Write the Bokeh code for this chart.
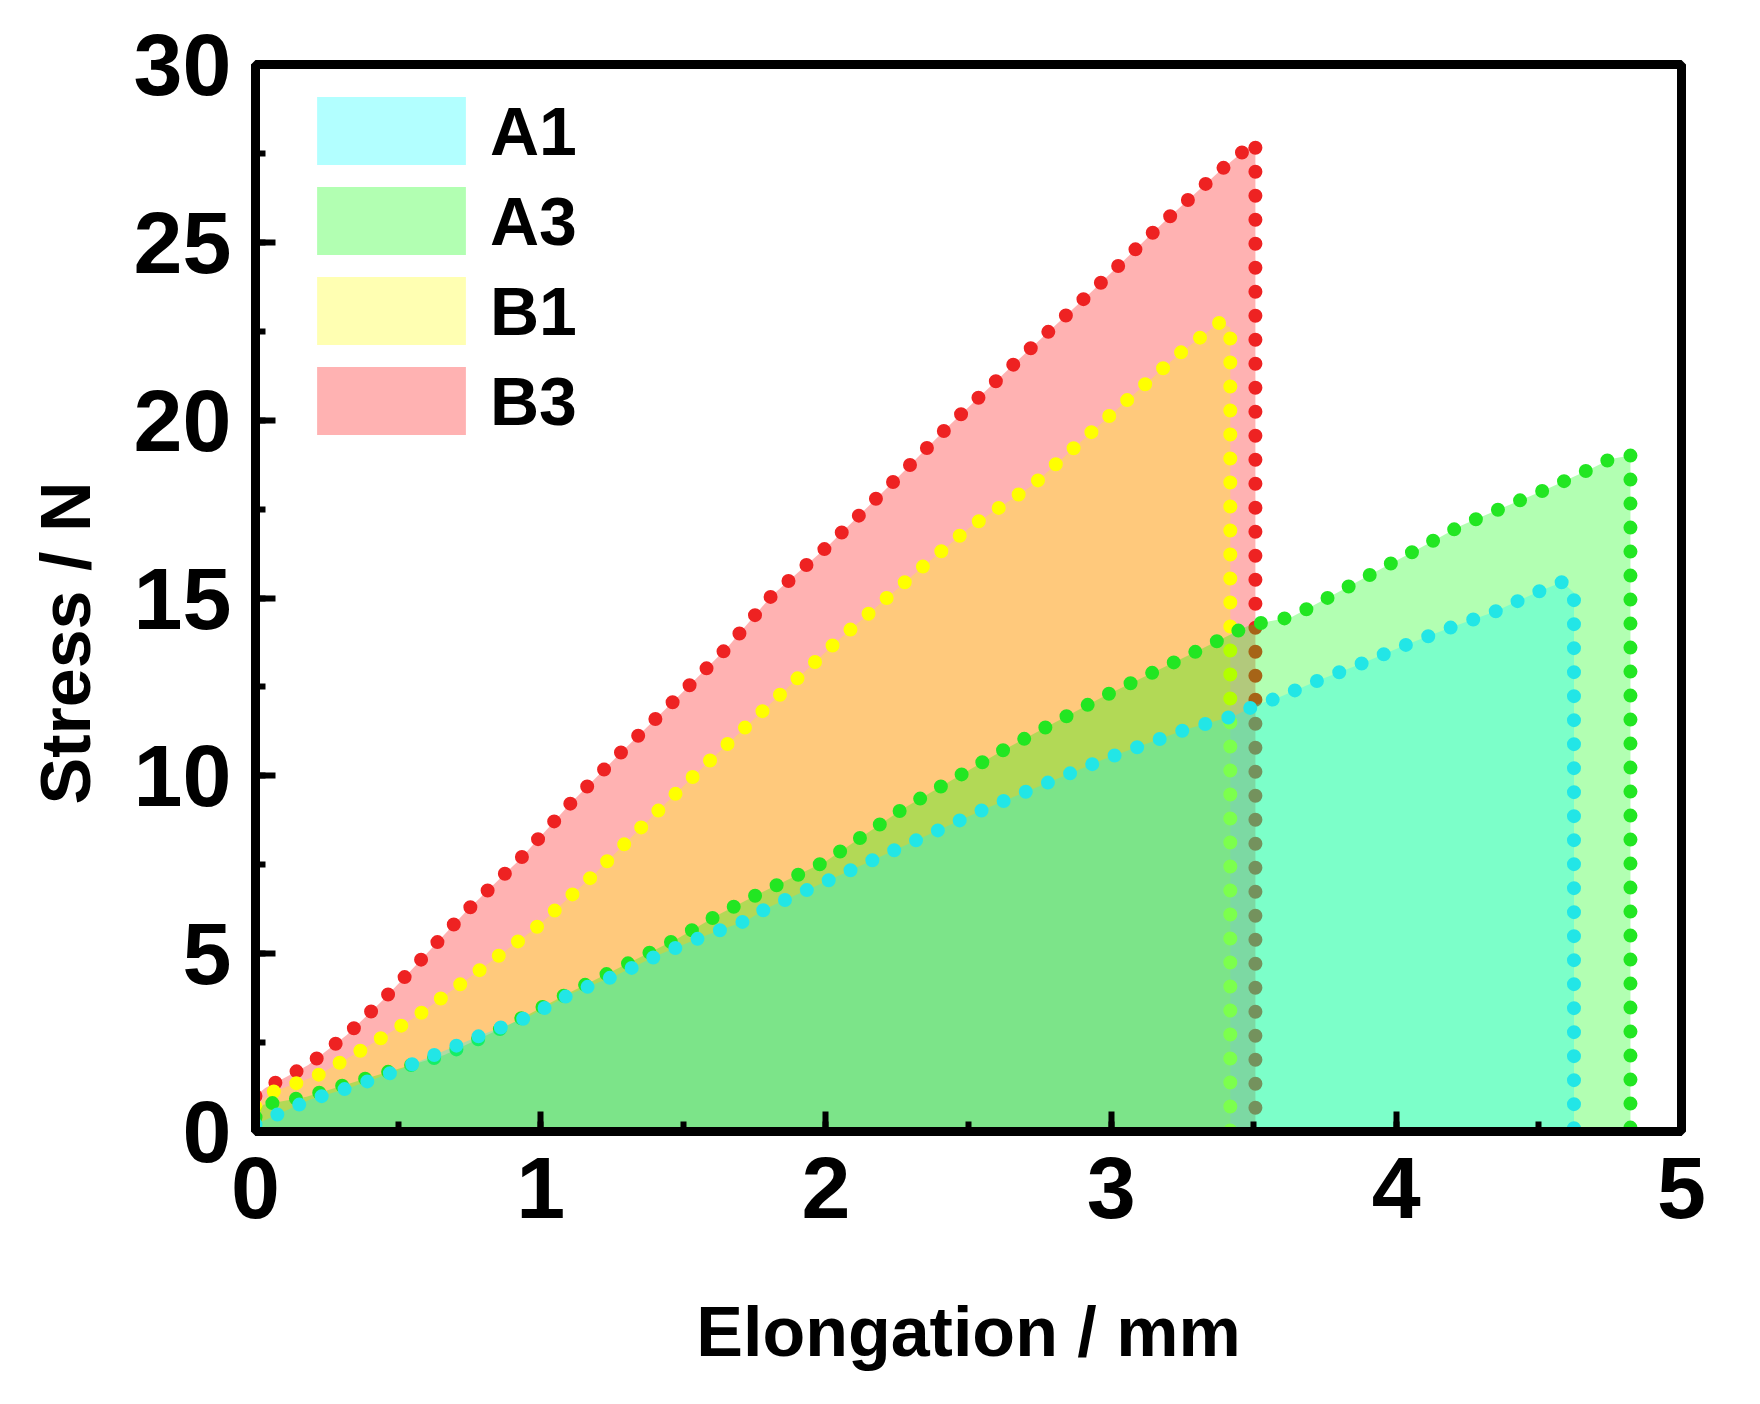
from bokeh.plotting import figure
from bokeh.models import Range1d, SingleIntervalTicker, Legend, LegendItem, Title
from bokeh.embed import file_html
from bokeh.resources import INLINE

# ---- data ----
a1_x = [0.0, 0.19, 0.34, 0.49, 0.656, 0.807, 0.958, 1.11, 1.267, 1.412, 1.569, 1.726,
        1.79, 2.0, 2.563, 2.97, 3.261, 3.437, 3.507, 3.577, 3.728, 3.879, 4.03, 4.181,
        4.344, 4.495, 4.582, 4.623]
a1_y = [0.2, 0.89, 1.26, 1.69, 2.25, 2.76, 3.23, 3.89, 4.4, 4.96, 5.48, 5.95,
        6.27, 7.03, 9.09, 10.45, 11.3, 11.7, 11.99, 12.17, 12.69, 13.16, 13.67, 14.14,
        14.61, 15.17, 15.45, 15.15]

a3_x = [0.0, 0.027, 0.179, 0.35, 0.662, 0.889, 1.1, 1.319, 1.482, 1.621, 1.767, 2.0,
        2.273, 2.621, 2.97, 3.261, 3.483, 3.635, 3.786, 3.937, 4.088, 4.228, 4.379,
        4.53, 4.681, 4.751, 4.821]
a3_y = [0.4, 0.75, 0.98, 1.4, 2.15, 3.0, 3.9, 4.78, 5.43, 6.09, 6.69, 7.6,
        9.09, 10.72, 12.22, 13.35, 14.23, 14.47, 15.12, 15.78, 16.43, 17.04, 17.56,
        18.07, 18.63, 18.91, 19.01]

b1_x = [0.0, 0.05, 0.22, 0.353, 0.563, 0.778, 0.981, 1.173, 1.36, 1.546, 1.738, 1.807,
        2.04, 2.319, 2.505, 2.726, 2.994, 3.25, 3.383, 3.418]
b1_y = [0.7, 1.08, 1.59, 2.2, 3.23, 4.49, 5.71, 7.12, 8.61, 10.07, 11.52, 12.04,
        13.79, 15.74, 16.99, 18.18, 20.12, 21.94, 22.76, 22.6]

b3_x = [0.0, 0.034, 0.109, 0.185, 0.32, 0.447, 0.563, 0.737, 0.924, 1.104, 1.278, 1.464,
        1.656, 1.807, 2.011, 2.249, 2.435, 2.691, 2.935, 3.186, 3.383, 3.506]
b3_y = [1.0, 1.22, 1.54, 1.87, 2.71, 3.7, 4.68, 6.18, 7.63, 9.22, 10.63, 12.08,
        13.62, 15.04, 16.49, 18.37, 19.87, 21.82, 23.64, 25.58, 27.02, 27.84]

series_names = ["A1", "A3", "B1", "B3"]
line_colors = {"A1": "#22e6e6", "A3": "#22e622", "B1": "#ffff00", "B3": "#ee2222"}
fill_colors = {"A1": "#00ffff", "A3": "#00ff00", "B1": "#ffff00", "B3": "#ff0000"}
data = {"A1": (a1_x, a1_y), "A3": (a3_x, a3_y), "B1": (b1_x, b1_y), "B3": (b3_x, b3_y)}

x_ticks_interval = 1
y_ticks_interval = 5

FONT = "Liberation Sans"

p = figure(width=1744, height=1388, output_backend="svg", toolbar_location=None,
           x_range=Range1d(0, 5), y_range=Range1d(0, 30),
           min_border_left=247, min_border_right=63, min_border_top=64,
           min_border_bottom=257)
p.xgrid.visible = False
p.ygrid.visible = False
p.background_fill_color = "white"
p.border_fill_color = "white"
p.outline_line_color = "black"
p.outline_line_width = 9

p.xaxis.ticker = SingleIntervalTicker(interval=x_ticks_interval, num_minor_ticks=2)
p.yaxis.ticker = SingleIntervalTicker(interval=y_ticks_interval, num_minor_ticks=2)
for ax in (p.xaxis, p.yaxis):
    ax.axis_line_width = 9
    ax.axis_line_color = "black"
    ax.major_tick_in = 20
    ax.major_tick_out = 0
    ax.minor_tick_in = 10
    ax.minor_tick_out = 0
    ax.major_tick_line_width = 6
    ax.minor_tick_line_width = 6
    ax.major_label_text_font = FONT
    ax.major_label_text_font_style = "bold"
    ax.major_label_text_font_size = "88px"
    ax.major_label_text_color = "black"
    ax.axis_label_text_font = FONT
    ax.axis_label_text_font_style = "bold"
    ax.axis_label_text_font_size = "70px"
    ax.axis_label_text_color = "black"
p.xaxis.axis_label = "Elongation / mm"
p.xaxis.major_label_standoff = 25
p.yaxis.major_label_standoff = 24
p.xaxis.axis_label_standoff = 72

ytitle = Title(text="Stress / N", align="left", offset=327, vertical_align="middle",
               text_font=FONT, text_font_style="bold", text_font_size="70px",
               text_color="black", standoff=50)
p.add_layout(ytitle, "left")

patch_renderers = {}
for name in ["B3", "B1", "A3", "A1"]:
    xs, ys = data[name]
    px = [0.0] + list(xs) + [xs[-1]]
    py = [0.0] + list(ys) + [0.0]
    r = p.patch(px, py, fill_color=fill_colors[name], fill_alpha=0.3, line_color=None)
    patch_renderers[name] = r
    lx = list(xs) + [xs[-1]]
    ly = list(ys) + [0.0]
    p.line(lx, ly, line_color=line_colors[name], line_width=14,
           line_dash="0 24", line_cap="round", line_join="round")

legend = Legend(items=[LegendItem(label=n, renderers=[patch_renderers[n]]) for n in series_names],
                location=(43, 688), orientation="vertical")
legend.glyph_width = 186
legend.glyph_height = 85
legend.label_standoff = 6
legend.spacing = 5
legend.padding = 0
legend.margin = 0
legend.border_line_color = None
legend.background_fill_alpha = 0
legend.label_text_font = FONT
legend.label_text_font_style = "bold"
legend.label_text_font_size = "68px"
legend.label_text_color = "black"
p.add_layout(legend, "center")

open("out.html", "w").write(file_html(p, INLINE))
